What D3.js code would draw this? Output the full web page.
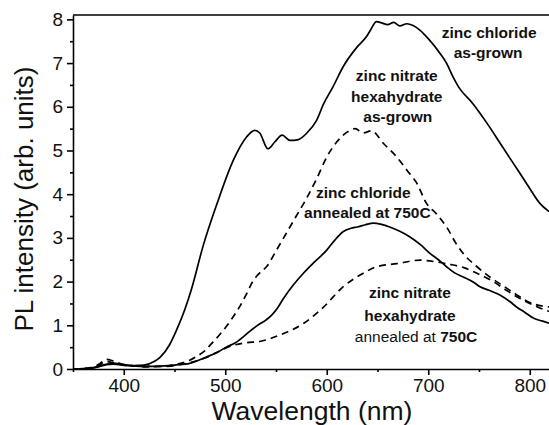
<!DOCTYPE html>
<html>
<head>
<meta charset="utf-8">
<script src="https://cdn.jsdelivr.net/npm/d3@7"></script>
<style>
    body { margin: 0; background: #fff; }
    svg { display: block; font-family: 'Liberation Sans', Arial, sans-serif; }
    .axis path, .axis line { stroke: #000; stroke-width: 1.6px; }
    .axis text { font-size: 19px; fill: #111; }
    .curve { fill: none; stroke: #000; stroke-width: 1.7px; }
    .note { font-size: 15.5px; fill: #111; text-anchor: middle; }
</style>
</head>
<body>
<div id="chart"></div>
<script>

// PL spectra

// zinc chloride, as-grown (solid)
let wlChlorideGrown = [350, 360, 370, 378, 385, 392, 400, 410, 420, 430, 436, 445, 452, 460, 467, 478, 492, 508, 521, 529, 534, 542, 549, 556, 564, 572, 580, 590, 597, 606, 616, 630, 639, 643, 649, 654, 660, 666, 672, 679, 685, 692, 700, 712, 718, 724, 730, 744, 758, 771, 784, 797, 810, 819];
let piChlorideGrown = [0, 0.01, 0.03, 0.08, 0.12, 0.13, 0.1, 0.08, 0.09, 0.17, 0.27, 0.55, 0.89, 1.35, 1.85, 2.8, 3.79, 4.78, 5.31, 5.46, 5.40, 5.04, 5.20, 5.35, 5.23, 5.25, 5.39, 5.69, 6.07, 6.45, 6.91, 7.37, 7.6, 7.75, 7.95, 7.92, 7.88, 7.93, 7.85, 7.9, 7.86, 7.75, 7.56, 7.21, 7.0, 6.7, 6.45, 6.07, 5.62, 5.16, 4.70, 4.24, 3.79, 3.6];

// zinc nitrate hexahydrate, as-grown (dashed)
let wlNitrateGrown = [350, 365, 375, 383, 390, 400, 410, 420, 440, 450, 458, 465, 472, 480, 488, 495, 501, 508, 514, 521, 527, 534, 541, 550, 560, 570, 580, 590, 600, 610, 620, 628, 636, 644, 656, 669, 679, 689, 698, 708, 718, 728, 736, 748, 761, 774, 787, 800, 813, 819];
let piNitrateGrown = [0, 0.02, 0.1, 0.22, 0.18, 0.1, 0.07, 0.05, 0.06, 0.1, 0.14, 0.2, 0.29, 0.42, 0.62, 0.8, 0.97, 1.2, 1.42, 1.72, 2.0, 2.2, 2.35, 2.7, 3.1, 3.5, 3.9, 4.35, 4.85, 5.2, 5.42, 5.5, 5.4, 5.45, 5.16, 4.85, 4.55, 4.24, 3.8, 3.55, 3.25, 2.85, 2.6, 2.34, 2.1, 1.9, 1.7, 1.52, 1.44, 1.42];

// zinc chloride, annealed at 750C (solid)
let wlChlorideAnn = [350, 365, 375, 383, 390, 398, 410, 420, 430, 440, 450, 465, 482, 492, 501, 510, 518, 525, 532, 540, 546, 551, 557, 567, 577, 588, 600, 608, 616, 624, 630, 638, 646, 654, 662, 672, 682, 692, 702, 710, 718, 726, 735, 745, 751, 760, 771, 780, 787, 795, 804, 812, 819];
let piChlorideAnn = [0, 0.01, 0.05, 0.1, 0.11, 0.09, 0.07, 0.06, 0.06, 0.07, 0.09, 0.13, 0.28, 0.38, 0.5, 0.6, 0.74, 0.88, 1.0, 1.12, 1.24, 1.38, 1.6, 1.92, 2.19, 2.45, 2.72, 2.95, 3.14, 3.22, 3.25, 3.3, 3.34, 3.31, 3.25, 3.15, 3.02, 2.85, 2.64, 2.5, 2.34, 2.2, 2.1, 1.98, 1.88, 1.8, 1.69, 1.55, 1.42, 1.3, 1.16, 1.1, 1.05];

// zinc nitrate hexahydrate, annealed at 750C (dashed)
let wlNitrateAnn = [350, 365, 375, 383, 390, 400, 410, 420, 440, 460, 480, 495, 505, 520, 534, 554, 577, 597, 616, 636, 649, 669, 692, 708, 720, 735, 748, 764, 777, 790, 804, 815, 819];
let piNitrateAnn = [0, 0.01, 0.08, 0.17, 0.14, 0.09, 0.07, 0.06, 0.06, 0.12, 0.25, 0.42, 0.52, 0.6, 0.63, 0.78, 1.04, 1.42, 1.88, 2.19, 2.34, 2.41, 2.49, 2.45, 2.4, 2.32, 2.19, 2.0, 1.8, 1.62, 1.46, 1.35, 1.32];

// axis ticks
let xTicks = [400, 500, 600, 700, 800];
let xMinorTicks = [350, 450, 550, 650, 750];
let yTicks = [0, 1, 2, 3, 4, 5, 6, 7, 8];
let yMinorTicks = [0.5, 1.5, 2.5, 3.5, 4.5, 5.5, 6.5, 7.5];

// in-plot labels: text lines, anchored in data units
let noteLines = [
    {wl: 760, pi: 7.57, parts: [['zinc chloride', true]]},
    {wl: 759, pi: 7.12, parts: [['as-grown', true]]},
    {wl: 669, pi: 6.59, parts: [['zinc nitrate', true]]},
    {wl: 669, pi: 6.11, parts: [['hexahydrate', true]]},
    {wl: 670, pi: 5.65, parts: [['as-grown', true]]},
    {wl: 636, pi: 3.91, parts: [['zinc chloride', true]]},
    {wl: 640, pi: 3.46, parts: [['annealed at 750C', true]]},
    {wl: 682, pi: 1.62, parts: [['zinc nitrate', true]]},
    {wl: 682, pi: 1.10, parts: [['hexahydrate', true]]},
    {wl: 688, pi: 0.62, parts: [['annealed at ', false], ['750C', true]]}
];


class SpectrumChart {

    constructor(parentElement) {
        this.parentElement = parentElement;

        this.series = [
            {wl: wlChlorideGrown, pi: piChlorideGrown, dashed: false},
            {wl: wlNitrateGrown, pi: piNitrateGrown, dashed: true},
            {wl: wlChlorideAnn, pi: piChlorideAnn, dashed: false},
            {wl: wlNitrateAnn, pi: piNitrateAnn, dashed: true}
        ];

        this.initVis();
    }

    initVis() {
        let vis = this;

        vis.margin = {top: 15, left: 73, bottom: 56};
        vis.totalWidth = 549;
        vis.totalHeight = 425;
        vis.height = vis.totalHeight - vis.margin.top - vis.margin.bottom;

        vis.svg = d3.select('#' + vis.parentElement).append('svg')
            .attr('width', vis.totalWidth)
            .attr('height', vis.totalHeight);

        // the frame runs past the right edge of the picture
        vis.xScale = d3.scaleLinear()
            .domain([350, 850])
            .range([vis.margin.left, vis.margin.left + 500 * 1.015]);

        vis.yScale = d3.scaleLinear()
            .domain([0, 8.1])
            .range([vis.margin.top + vis.height, vis.margin.top]);

        vis.updateVis();
    }

    updateVis() {
        let vis = this;
        let x = vis.xScale, y = vis.yScale;
        let y0 = y.range()[0];

        // top of the frame
        vis.svg.append('line')
            .attr('x1', x.range()[0]).attr('x2', x.range()[1])
            .attr('y1', y.range()[1]).attr('y2', y.range()[1])
            .attr('stroke', '#000')
            .attr('stroke-width', 1.6);

        // curves
        let line = d3.line()
            .x(d => x(d[0]))
            .y(d => y(d[1]))
            .curve(d3.curveMonotoneX);

        vis.svg.selectAll('.curve')
            .data(vis.series)
            .enter()
            .append('path')
            .attr('class', 'curve')
            .attr('stroke-dasharray', d => d.dashed ? '7,5' : null)
            .attr('d', d => line(d.wl.map((w, i) => [w, d.pi[i]])));

        // axes
        vis.svg.append('g')
            .attr('class', 'axis')
            .attr('transform', `translate(0, ${y0})`)
            .call(d3.axisBottom(x).tickValues(xMinorTicks).tickSize(3).tickFormat(''))
            .call(g => g.select('.domain').remove());

        vis.svg.append('g')
            .attr('class', 'axis')
            .attr('transform', `translate(0, ${y0})`)
            .call(d3.axisBottom(x).tickValues(xTicks).tickSize(6).tickSizeOuter(0).tickPadding(4)
                .tickFormat(d3.format('d')));

        vis.svg.append('g')
            .attr('class', 'axis')
            .attr('transform', `translate(${x.range()[0]}, 0)`)
            .call(d3.axisLeft(y).tickValues(yMinorTicks).tickSize(3).tickFormat(''))
            .call(g => g.select('.domain').remove());

        vis.svg.append('g')
            .attr('class', 'axis')
            .attr('transform', `translate(${x.range()[0]}, 0)`)
            .call(d3.axisLeft(y).tickValues(yTicks).tickSize(6).tickSizeOuter(0).tickPadding(4)
                .tickFormat(d3.format('d')));

        // axis titles
        vis.svg.append('text')
            .attr('x', 312)
            .attr('y', 420)
            .attr('text-anchor', 'middle')
            .style('font-size', '26.5px')
            .style('fill', '#111')
            .text('Wavelength (nm)');

        vis.svg.append('text')
            .attr('transform', 'translate(33, 199) rotate(-90)')
            .attr('text-anchor', 'middle')
            .style('font-size', '26px')
            .style('fill', '#111')
            .text('PL intensity (arb. units)');

        // labels beside the curves
        let notes = vis.svg.selectAll('.note')
            .data(noteLines)
            .enter()
            .append('text')
            .attr('class', 'note')
            .attr('x', d => x(d.wl))
            .attr('y', d => y(d.pi));

        notes.selectAll('tspan')
            .data(d => d.parts)
            .enter()
            .append('tspan')
            .style('font-weight', d => d[1] ? 'bold' : 'normal')
            .text(d => d[0]);
    }
}

new SpectrumChart('chart');

</script>
</body>
</html>
